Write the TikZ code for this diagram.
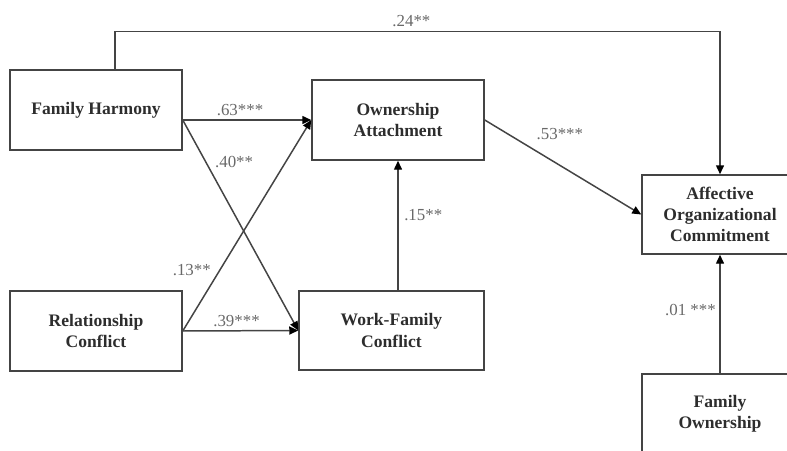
\documentclass[tikz,border=0pt]{standalone}
\usepackage{fontspec}
\setmainfont{Liberation Serif}
\usepackage{tikz}
\usetikzlibrary{positioning, arrows.meta}
\definecolor{lineC}{RGB}{68, 68, 68}
\definecolor{coefC}{RGB}{105, 105, 105}
\definecolor{textC}{RGB}{45, 45, 45}

\begin{document}
\begin{tikzpicture}[font=\fontsize{10}{12}\selectfont,
    >={Triangle[length=1.8mm, width=1.6mm, color=black]},
    var/.style={draw=lineC, line width=0.85pt, align=center, font=\fontsize{10}{12}\selectfont\bfseries,
      text=textC, minimum width=3.44cm, minimum height=1.6cm, inner sep=2pt},
    path/.style={->, line width=0.85pt, lineC},
    coef/.style={text=coefC, font=\fontsize{9.6}{11}\selectfont, inner sep=2pt}]
  \clip (0,0) rectangle (15.74,9);

  \node[var] (FH) at (1.92,6.8) {Family Harmony};
  \node[var] (OA) at (7.96,6.6) {Ownership\\Attachment};
  \node[var] (RC) at (1.92,2.38) {Relationship\\Conflict};
  \node[var, minimum width=3.7cm, minimum height=1.58cm] (WFC) at (7.83,2.39) {Work-Family\\Conflict};
  \node[var, minimum width=3.12cm, minimum height=1.58cm] (AOC) at (14.4,4.71) {Affective\\Organizational\\Commitment};
  \node[var, minimum width=3.12cm] (FO) at (14.4,0.72) {Family\\Ownership};

  % direct path to commitment
  \draw[path] ([xshift=0.38cm]FH.north) -- ++(0,0.76) -| (AOC.north)
    node[coef, pos=0.245, above]{.24**};

  \draw[path] (FH.east |- OA.west) -- (OA.west)
    node[coef, midway, above, xshift=-0.14cm]{.63***};
  \draw[path] (FH.east |- OA.west) -- (WFC.west)
    node[coef, pos=0.2, right, xshift=0.1cm]{.40**};
  \draw[path] (RC.east) -- (OA.west)
    node[coef, pos=0.29, left, xshift=-0.1cm]{.13**};
  \draw[path] (RC.east) -- (WFC.west)
    node[coef, midway, above, xshift=-0.08cm]{.39***};

  \draw[path] (OA.south |- WFC.north) -- (OA.south)
    node[coef, pos=0.58, right, xshift=0.04cm]{.15**};
  \draw[path] (OA.east) -- (AOC.west)
    node[coef, pos=0.48, above=0.42cm]{.53***};
  \draw[path] (FO.north) -- (AOC.south)
    node[coef, pos=0.53, left]{.01 ***};
\end{tikzpicture}
\end{document}
